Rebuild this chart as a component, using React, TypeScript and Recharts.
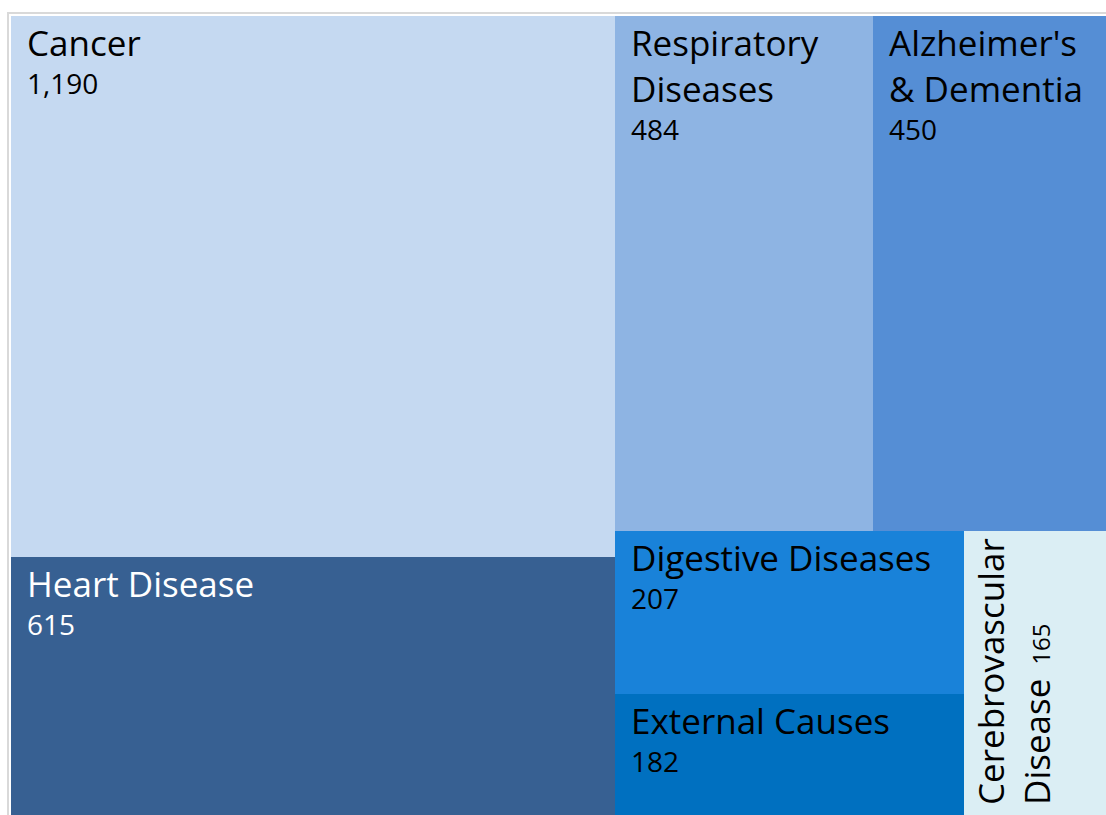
import React from 'react';
import { Treemap } from 'recharts';

// deaths by cause (thousands)
const CAUSES = [
  'Cancer',
  'Heart Disease',
  'Respiratory Diseases',
  "Alzheimer's & Dementia",
  'Digestive Diseases',
  'External Causes',
  'Cerebrovascular Disease',
];
const DEATHS = [1190, 615, 484, 450, 207, 182, 165];

const FILLS = ['#c5d9f1', '#376092', '#8eb4e3', '#558ed5', '#1982d9', '#0070c0', '#dbeef4'];
const LABEL_COLORS = ['#000', '#fff', '#000', '#000', '#000', '#000', '#000'];

const FONT = '"Open Sans", Lato, sans-serif';
const NAME_SIZE = 35;
const VALUE_SIZE = 28;
const LINE_H = 46;
const PAD_X = 16;
const FIRST_BASELINE = 40;
const VERT_START = 32;

let ctx: CanvasRenderingContext2D | null = null;
function textWidth(s: string, size: number) {
  if (!ctx) ctx = document.createElement('canvas').getContext('2d');
  if (!ctx) return s.length * size * 0.55;
  ctx.font = `${size}px "Open Sans"`;
  return ctx.measureText(s).width;
}

function wrap(text: string, maxW: number, size: number) {
  const lines: string[] = [];
  let cur = '';
  text.split(' ').forEach(w => {
    const next = cur ? cur + ' ' + w : w;
    if (cur && textWidth(next, size) > maxW) {
      lines.push(cur);
      cur = w;
    } else cur = next;
  });
  if (cur) lines.push(cur);
  return lines;
}

const fmt = (v: number) => v.toLocaleString('en-US');

function Label({ w, name, value, color, inline, startX }: any) {
  const lines = wrap(name, w - startX - 8, NAME_SIZE);
  const last = FIRST_BASELINE + (lines.length - 1) * LINE_H;
  return (
    <text fill={color} fontFamily={FONT}>
      {lines.map((l, i) => (
        <tspan key={i} x={startX} y={FIRST_BASELINE + i * LINE_H} fontSize={NAME_SIZE}>
          {l}
        </tspan>
      ))}
      {inline ? (
        <tspan dx={14} fontSize={24}>{fmt(value)}</tspan>
      ) : (
        <tspan x={startX} y={last + 38} fontSize={VALUE_SIZE}>{fmt(value)}</tspan>
      )}
    </text>
  );
}

function Tile(props: any) {
  const { x, y, width, height, depth, name, value, fill, labelColor } = props;
  if (depth !== 1) return null;
  const longest = Math.max(...String(name).split(' ').map(s => textWidth(s, NAME_SIZE)));
  const vertical = longest > width - 2 * PAD_X && height > width;
  return (
    <g>
      <rect x={x} y={y} width={width} height={height} fill={fill} stroke="none" />
      {vertical ? (
        <g transform={`translate(${x}, ${y + height}) rotate(-90)`}>
          <Label w={height} name={name} value={value} color={labelColor} startX={VERT_START} inline />
        </g>
      ) : (
        <g transform={`translate(${x}, ${y})`}>
          <Label w={width} name={name} value={value} color={labelColor} startX={PAD_X} />
        </g>
      )}
    </g>
  );
}

export default function App() {
  const data = CAUSES.map((name, i) => ({
    name,
    size: DEATHS[i],
    fill: FILLS[i],
    labelColor: LABEL_COLORS[i],
  }));

  return (
    <div style={{ position: 'fixed', left: 0, top: 0, width: 1106, height: 815, overflow: 'hidden', background: '#fff' }}>
      <div
        style={{
          position: 'absolute',
          left: 7,
          top: 12,
          border: '2px solid #d9d9d9',
          padding: 2,
          background: '#fff',
        }}
      >
        <Treemap
          width={1102}
          height={821}
          data={data}
          dataKey="size"
          nameKey="name"
          isAnimationActive={false}
          content={<Tile />}
        />
      </div>
    </div>
  );
}
